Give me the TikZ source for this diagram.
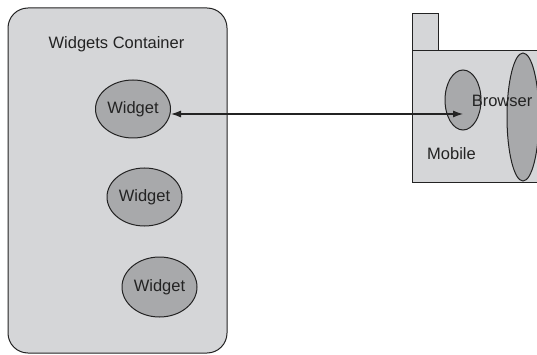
\documentclass[tikz,border=0pt]{standalone}
\usepackage{fontspec}
\setmainfont{Liberation Sans}
\usetikzlibrary{shapes.geometric,arrows.meta}
\definecolor{panel}{RGB}{213,214,216}
\definecolor{blob}{RGB}{168,169,171}
\definecolor{ink}{RGB}{35,35,35}
\tikzset{
  lbl/.style={font=\fontsize{16.5}{18}\selectfont, text=ink, inner sep=0pt},
  widget/.style={ellipse, draw=ink, fill=blob, line width=1pt,
    minimum width=75pt, minimum height=58pt, inner sep=0pt,
    font=\fontsize{16.5}{18}\selectfont, text=ink},
  frame/.style={draw=ink, fill=panel, line width=1pt},
  link/.style={draw=ink, line width=1.1pt, {Latex[length=10pt,width=7pt]}-{Latex[length=10pt,width=7pt]}}
}
\begin{document}
\begin{tikzpicture}[x=1pt,y=-1pt]
  \useasboundingbox (0,0) rectangle (537,355);
  \clip (0,0) rectangle (537,355);

  % widgets container
  \draw[frame, rounded corners=20pt] (8,8) rectangle (227,353);
  \node[lbl] (title) at (116.5,44) {Widgets Container};
  \node[widget] (w1) at (133,109) {Widget};
  \node[widget] (w2) at (144.5,197) {Widget};
  \node[widget, minimum height=60pt] (w3) at (159.5,287) {Widget};

  % mobile device
  \draw[frame] (412,51) rectangle (438,14);
  \draw[frame] (412,51) rectangle (560,183);
  \node[ellipse, draw=ink, fill=blob, line width=1pt, minimum width=36pt,
        minimum height=60pt, inner sep=0pt] (port) at (463,100) {};
  \node[ellipse, draw=ink, fill=blob, line width=1pt, minimum width=32pt,
        minimum height=128pt, inner sep=0pt] (screen) at (523,117) {};
  \node[lbl] (browser) at (502,101) {Browser};
  \node[lbl] (mobile) at (451.5,154) {Mobile};

  % connection between widget and browser
  \coordinate (tip) at (463,114);
  \draw[link] (tip -| w1.east) -- (tip);
\end{tikzpicture}
\end{document}
